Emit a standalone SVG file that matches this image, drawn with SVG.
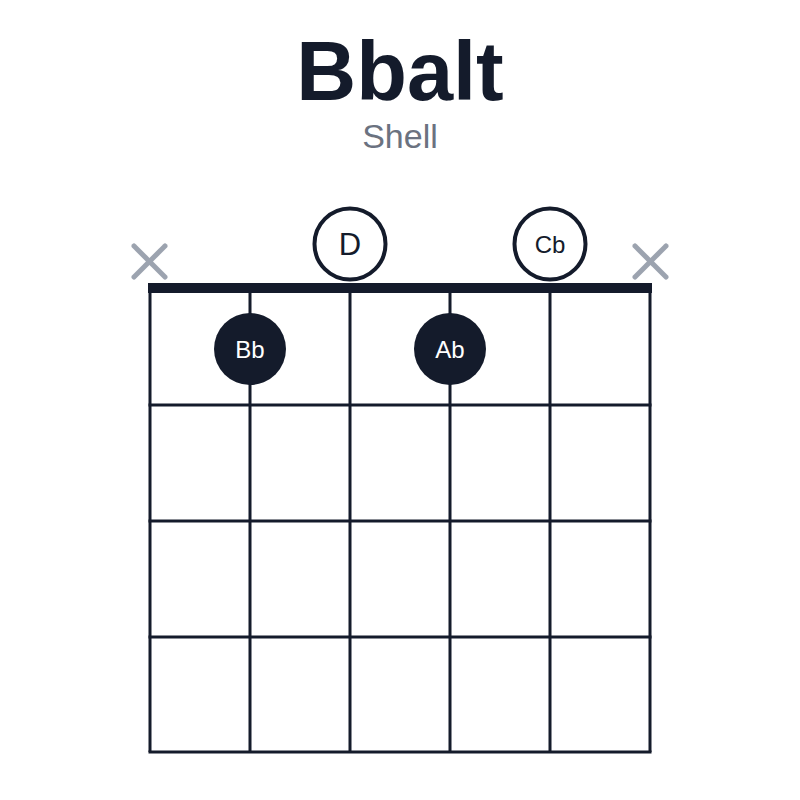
<svg xmlns="http://www.w3.org/2000/svg" width="800" height="800" viewBox="0 0 800 800">
<style>
.grid{stroke:#141b2b;stroke-width:3;fill:none}
.nut{fill:#141b2b}
.open{fill:#fff;stroke:#141b2b;stroke-width:4}
.fing{fill:#141b2b}
.mute{stroke:#9ca3af;stroke-width:5;stroke-linecap:round}
.lbl{font-family:"Liberation Sans",Arial,sans-serif;text-anchor:middle}
</style>
<rect width="800" height="800" fill="#fff"/>
<text class="lbl" x="400" y="100" font-size="83" font-weight="bold" fill="#141b2b">Bbalt</text>
<text class="lbl" x="400" y="148" font-size="34" fill="#6b7280">Shell</text>
<g id="grid">
<line class="grid" x1="150" y1="288" x2="150" y2="752"/>
<line class="grid" x1="250" y1="288" x2="250" y2="752"/>
<line class="grid" x1="350" y1="288" x2="350" y2="752"/>
<line class="grid" x1="450" y1="288" x2="450" y2="752"/>
<line class="grid" x1="550" y1="288" x2="550" y2="752"/>
<line class="grid" x1="650" y1="288" x2="650" y2="752"/>
<line class="grid" x1="148.5" y1="405" x2="651.5" y2="405"/>
<line class="grid" x1="148.5" y1="521" x2="651.5" y2="521"/>
<line class="grid" x1="148.5" y1="637" x2="651.5" y2="637"/>
<line class="grid" x1="148.5" y1="752" x2="651.5" y2="752"/>
<rect class="nut" x="148" y="283" width="504" height="10"/>
</g>
<g id="mute1"><line class="mute" x1="134" y1="246" x2="165" y2="277"/><line class="mute" x1="165" y1="246" x2="134" y2="277"/></g>
<g id="mute6"><line class="mute" x1="635" y1="246" x2="666" y2="277"/><line class="mute" x1="666" y1="246" x2="635" y2="277"/></g>
<g id="openD"><circle class="open" cx="350" cy="244" r="35.5"/><text class="lbl" x="350" y="255" font-size="31" fill="#141b2b">D</text></g>
<g id="openCb"><circle class="open" cx="550" cy="244" r="35.5"/><text class="lbl" x="550" y="253" font-size="24" fill="#141b2b">Cb</text></g>
<g id="fBb"><circle class="fing" cx="250" cy="349" r="36"/><text class="lbl" x="250" y="358" font-size="24" fill="#fff">Bb</text></g>
<g id="fAb"><circle class="fing" cx="450" cy="349" r="36"/><text class="lbl" x="450" y="358" font-size="24" fill="#fff">Ab</text></g>
</svg>
